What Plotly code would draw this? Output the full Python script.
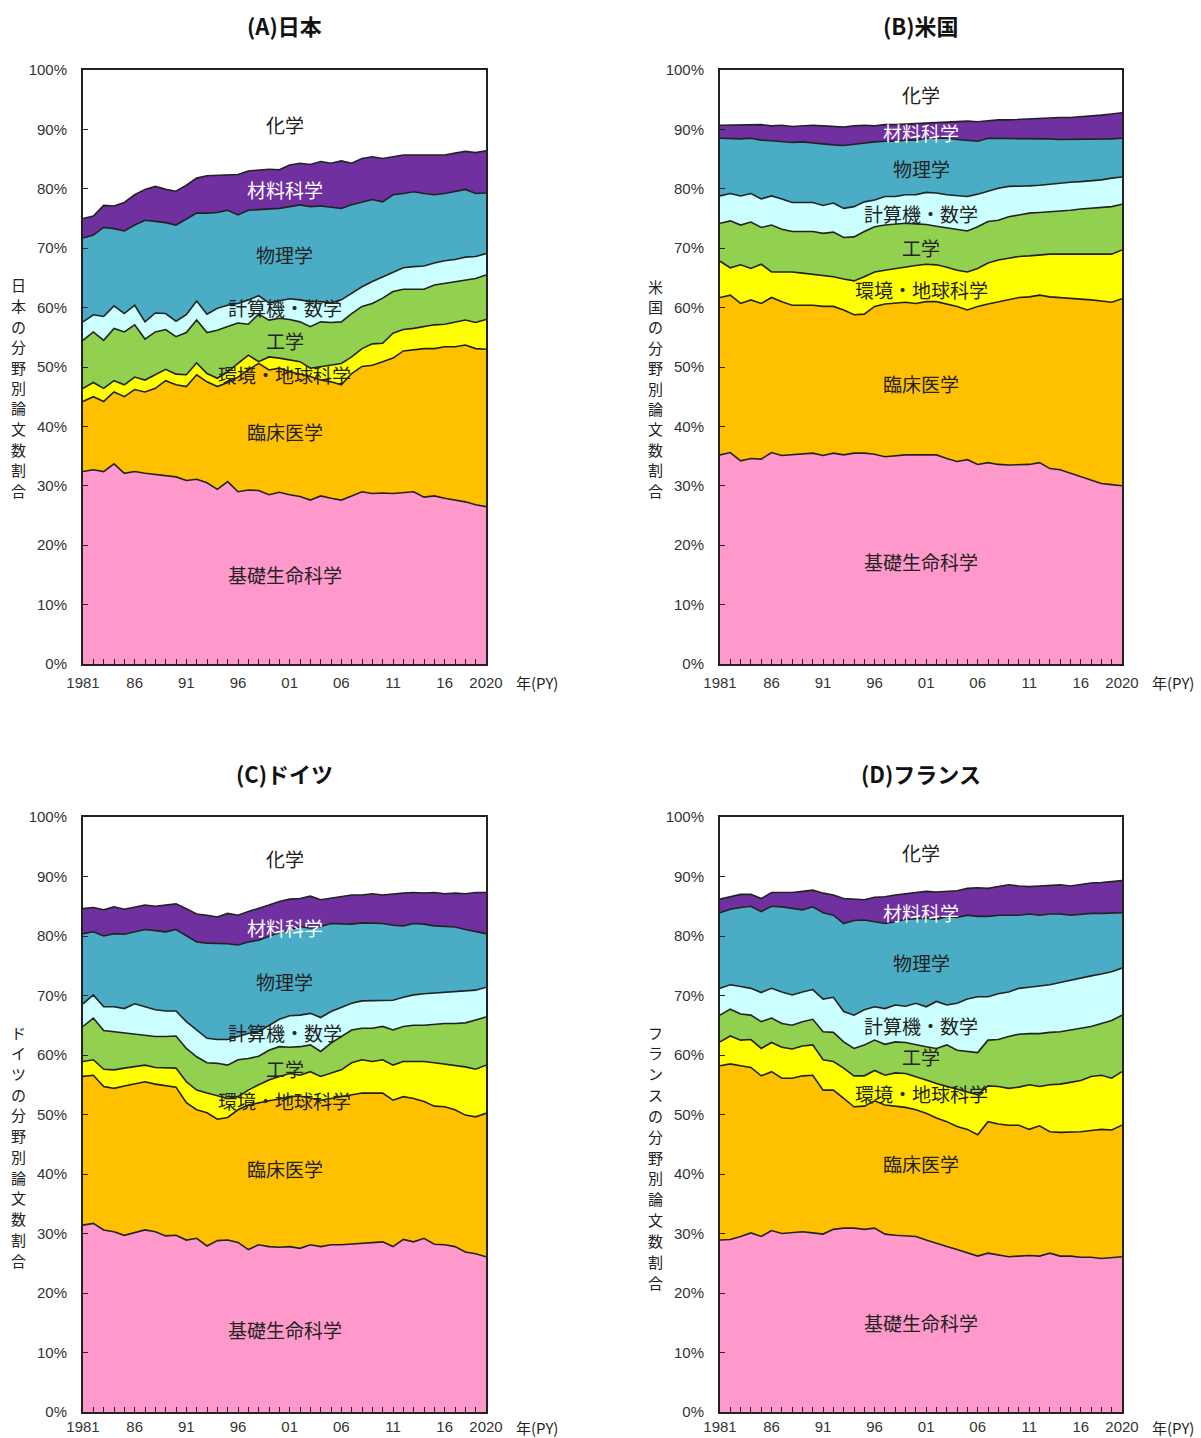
import plotly.graph_objects as go

# 1981-2020 publication years
years = list(range(1981, 2021))

fields = ["基礎生命科学", "臨床医学", "環境・地球科学", "工学", "計算機・数学", "物理学", "材料科学", "化学"]
fill_colors = ["#FF99CC", "#FFC000", "#FFFF00", "#92D050", "#CCFFFF", "#4BACC6", "#7030A0"]

x_tickvals = [1981, 1986, 1991, 1996, 2001, 2006, 2011, 2016, 2020]
x_ticktext = ["1981", "86", "91", "96", "01", "06", "11", "16", "2020"]
y_tickvals = list(range(0, 101, 10))
y_ticktext = [f"{v}%" for v in y_tickvals]

# Cumulative share (%) at the upper edge of each field, stacked bottom to top.
# Japan
jp_basic = [32.4,32.7,32.4,33.7,32.1,32.4,32.1,31.9,31.8,31.5, 30.9,31.1,30.5,29.4,30.7,29.0,29.3,29.2,28.5,28.9,
            28.5,28.2,27.6,28.3,27.9,27.6,28.3,29.0,28.7,28.8, 28.7,28.8,29.0,28.1,28.3,27.9,27.6,27.3,26.8,26.5]
jp_clin = [44.2,45.0,44.2,45.8,45.0,46.2,45.8,46.4,47.7,47.0, 46.7,48.7,47.5,46.7,47.4,48.3,49.5,50.6,49.5,49.8,
           49.2,48.8,48.4,47.8,47.5,47.0,48.9,50.1,50.3,50.9, 51.5,52.7,52.9,53.1,53.1,53.4,53.4,53.7,53.1,53.0]
jp_env = [46.4,47.4,46.4,47.7,47.0,48.3,47.8,48.7,49.6,48.8, 48.7,50.7,48.9,48.1,49.2,50.6,52.0,50.9,51.7,51.5,
          51.2,50.9,49.8,50.1,50.3,50.6,51.7,53.1,53.9,54.0, 55.7,56.3,56.5,56.8,57.1,57.2,57.5,57.9,57.5,58.0]
jp_eng = [54.5,55.9,54.5,56.5,55.9,57.1,54.7,55.9,56.3,55.1, 55.8,57.9,55.8,56.2,56.8,57.4,57.2,58.9,57.9,58.2,
          58.0,57.6,56.8,57.6,57.5,57.6,59.0,60.2,60.7,61.6, 62.7,63.1,63.1,63.1,63.8,64.1,64.4,64.6,64.9,65.5]
jp_comp = [57.6,58.8,58.5,60.3,59.0,60.4,57.6,59.1,59.0,57.7, 58.8,61.1,58.9,59.9,60.4,60.7,61.3,62.0,60.8,61.2,
           61.5,61.3,61.0,61.0,60.8,61.3,62.4,63.5,64.4,65.2, 65.9,66.7,66.9,67.0,67.5,67.9,68.1,68.5,68.6,69.1]
jp_phys = [71.7,72.2,73.5,73.3,72.9,73.9,74.7,74.5,74.3,73.9, 74.9,75.9,75.9,76.0,76.4,75.6,76.4,76.5,76.6,76.7,
           77.0,77.3,77.0,77.1,76.9,76.7,77.3,77.8,78.2,77.8, 79.0,79.2,79.5,79.2,79.0,79.2,79.5,79.9,79.2,79.3]
jp_mat = [75.0,75.4,77.2,77.1,77.7,79.0,79.9,80.4,79.9,79.6, 80.6,81.8,82.2,82.3,82.4,82.4,83.0,83.1,83.3,83.2,
          84.0,84.3,84.1,84.6,84.3,84.7,84.3,85.1,85.4,85.1, 85.4,85.7,85.7,85.7,85.8,85.7,86.0,86.3,86.1,86.4]

# United States
us_basic = [35.2,35.6,34.2,34.6,34.5,35.6,35.1,35.2,35.3,35.5, 35.1,35.5,35.2,35.5,35.5,35.3,34.9,35.1,35.2,35.2,
            35.2,35.2,34.6,34.1,34.4,33.6,33.9,33.6,33.5,33.6, 33.6,33.9,32.9,32.7,32.1,31.5,31.0,30.4,30.2,30.0]
us_clin = [61.7,62.1,60.7,61.3,60.7,61.7,61.0,60.4,60.4,60.4, 60.2,60.2,59.6,58.8,58.9,60.2,60.6,60.7,60.9,60.7,
           61.0,61.0,60.6,60.2,59.6,60.2,60.6,61.0,61.3,61.7, 61.8,62.1,61.8,61.7,61.6,61.4,61.3,61.1,60.9,61.5]
us_env = [67.8,66.7,67.2,66.6,67.3,66.0,66.0,66.0,65.8,65.6, 65.4,65.2,64.8,64.5,65.2,66.0,66.3,66.6,66.9,67.1,
          67.3,67.2,66.8,66.3,66.0,66.6,67.5,68.0,68.3,68.6, 68.7,68.9,69.0,69.0,69.0,69.1,69.1,69.0,69.0,69.7]
us_eng = [74.2,74.6,73.9,74.4,73.5,73.9,73.2,72.8,72.8,72.8, 72.5,72.7,71.8,71.9,72.8,73.6,73.9,74.0,74.2,74.1,
          74.0,73.7,73.4,73.1,72.9,73.6,74.5,74.7,75.3,75.6, 75.9,76.0,76.1,76.3,76.4,76.6,76.7,76.8,77.0,77.4]
us_comp = [78.8,79.2,78.8,79.2,78.3,78.8,78.3,77.7,77.7,77.7, 77.2,77.6,76.7,77.0,77.8,78.1,78.7,78.7,79.0,79.0,
           79.4,79.3,79.0,78.8,78.7,79.1,79.6,80.1,80.4,80.4, 80.5,80.6,80.8,80.9,81.1,81.2,81.3,81.5,81.8,82.0]
us_phys = [88.5,88.4,88.4,88.5,88.2,88.1,87.9,87.8,87.9,87.7, 87.5,87.4,87.3,87.5,87.8,87.9,88.0,88.0,88.2,88.2,
           88.5,88.5,88.5,88.3,88.2,88.0,88.5,88.5,88.5,88.5, 88.4,88.5,88.4,88.3,88.3,88.4,88.3,88.4,88.4,88.5]
us_mat = [90.7,90.7,90.7,90.7,90.8,90.6,90.7,90.5,90.6,90.7, 90.6,90.5,90.4,90.6,90.7,90.6,90.8,90.8,90.9,91.0,
          91.1,91.2,91.2,91.3,91.4,91.3,91.5,91.6,91.6,91.7, 91.7,91.8,91.9,92.0,92.0,92.1,92.3,92.4,92.6,92.8]

# Germany
de_basic = [31.4,31.7,30.6,30.3,29.7,30.1,30.6,30.3,29.6,29.7, 28.9,29.2,27.9,28.8,28.9,28.5,27.3,28.1,27.8,27.7,
            27.8,27.5,28.1,27.8,28.1,28.1,28.2,28.3,28.4,28.6, 27.8,29.0,28.6,29.2,28.2,28.1,27.8,26.9,26.6,26.1]
de_clin = [56.4,56.6,54.7,54.4,54.8,55.1,55.5,55.1,54.8,54.6, 52.0,50.8,50.3,49.2,49.5,50.8,51.6,52.0,52.3,52.6,
           53.0,53.1,52.8,52.4,52.7,53.0,53.3,53.6,53.6,53.6, 52.4,53.0,52.7,52.2,51.4,51.3,50.8,49.9,49.6,50.2]
de_env = [58.9,59.2,57.6,57.5,57.8,58.0,58.3,57.9,57.8,57.8, 55.5,54.1,53.6,53.1,52.7,53.0,54.1,55.0,55.8,56.4,
          56.9,56.6,57.2,56.4,57.0,57.5,58.7,59.2,58.9,59.2, 58.3,58.9,58.9,58.9,58.7,58.5,58.3,58.0,57.6,58.3]
de_eng = [64.8,66.2,64.1,63.9,63.8,63.5,63.4,63.1,63.1,63.2, 61.1,59.7,58.7,58.6,58.3,59.2,59.4,59.8,60.8,61.4,
          61.3,61.4,61.7,60.6,62.0,63.1,64.2,64.5,64.5,64.8, 64.2,64.8,65.0,65.0,65.2,65.3,65.3,65.4,65.9,66.4]
de_comp = [68.6,70.1,68.1,68.1,67.8,68.6,68.1,67.6,67.4,67.4, 65.6,64.2,62.8,62.6,62.6,63.1,63.6,63.9,65.0,66.0,
           66.6,66.7,67.0,66.3,67.3,68.0,68.7,69.1,69.1,69.1, 69.2,69.7,70.1,70.3,70.4,70.5,70.6,70.8,70.9,71.4]
de_phys = [80.4,80.7,80.0,80.4,80.3,80.7,81.1,80.9,80.7,81.1, 80.0,79.0,78.8,78.8,78.7,78.5,79.0,79.3,80.0,80.6,
           81.0,81.6,81.3,81.6,82.1,82.1,82.0,82.2,82.2,82.1, 81.8,81.7,82.1,82.0,81.7,81.6,81.5,81.1,80.7,80.4]
de_mat = [84.6,84.8,84.4,84.9,84.5,84.9,85.2,85.0,85.2,85.4, 84.6,83.7,83.5,83.2,83.8,83.5,84.1,84.6,85.2,85.8,
          86.2,86.3,86.7,86.1,86.4,86.7,86.9,86.9,87.1,86.9, 87.1,87.2,87.3,87.2,87.3,87.1,87.2,87.1,87.3,87.3]

# France
fr_basic = [28.9,29.0,29.5,30.1,29.5,30.5,30.0,30.1,30.3,30.1, 29.9,30.7,30.9,30.9,30.7,30.9,29.9,29.7,29.6,29.5,
            28.9,28.3,27.8,27.3,26.8,26.2,26.7,26.4,26.1,26.2, 26.3,26.2,26.7,26.2,26.2,26.0,26.0,25.8,25.9,26.1]
fr_clin = [58.2,58.5,58.2,57.9,56.5,57.2,56.1,56.1,56.5,56.6, 54.1,54.1,52.7,51.3,51.4,52.3,51.6,51.4,51.2,50.8,
           50.2,49.4,48.8,48.0,47.5,46.6,48.8,48.4,48.2,48.2, 47.5,48.1,47.1,47.0,47.0,47.1,47.3,47.5,47.4,48.2]
fr_env = [62.2,63.2,62.5,62.6,61.1,62.1,61.3,61.0,61.5,61.7, 59.2,58.9,57.8,56.5,56.5,57.4,56.6,57.0,56.9,56.4,
          55.8,55.2,54.7,54.2,53.8,53.3,54.8,54.7,54.4,54.6, 55.0,54.7,55.0,55.1,55.4,55.7,56.4,56.6,56.1,57.2]
fr_eng = [66.7,67.7,66.9,66.7,65.6,66.2,65.3,65.0,65.6,66.0, 63.9,63.8,62.2,61.1,61.7,62.5,61.8,62.2,62.1,61.7,
          61.4,61.1,61.7,60.8,60.6,60.4,62.5,62.6,63.1,63.5, 63.6,63.6,63.8,63.9,64.2,64.5,64.8,65.3,65.8,66.7]
fr_comp = [71.2,71.8,71.5,71.2,70.5,71.2,70.6,70.1,70.6,71.0, 69.4,69.7,67.3,66.7,67.6,68.1,67.8,68.4,68.2,68.7,
           68.1,69.0,68.4,68.7,69.4,69.8,69.8,70.3,70.6,71.2, 71.4,71.6,71.8,72.2,72.6,72.9,73.3,73.6,74.0,74.6]
fr_phys = [83.9,84.5,84.8,85.0,84.1,85.0,84.9,84.6,84.4,84.9, 83.9,83.5,82.1,82.6,82.7,82.4,82.1,82.4,82.8,82.9,
           83.0,82.8,83.3,83.1,83.5,83.3,83.3,83.5,83.5,83.5, 83.7,83.5,83.7,83.7,83.5,83.7,83.8,83.8,83.9,83.9]
fr_mat = [86.2,86.6,87.0,87.0,86.3,87.3,87.3,87.3,87.5,87.7, 87.2,86.9,86.3,86.2,86.1,86.5,86.6,86.9,87.1,87.2,
          87.5,87.4,87.5,87.6,88.0,88.1,88.0,88.3,88.6,88.4, 88.3,88.4,88.5,88.6,88.4,88.7,88.9,89.0,89.1,89.3]

W, H = 1201, 1438

panels = [
    dict(title="(A)日本", ytitle="日本の分野別論文数割合",
         series=[jp_basic, jp_clin, jp_env, jp_eng, jp_comp, jp_phys, jp_mat],
         xpx=(83, 486), ypx=(70, 664), title_y=25, ytitle_x=18, ytitle_y=(285, 490),
         xlab_standoff=4, unit_y=683,
         labels_y=[15.0, 39.1, 48.8, 54.5, 60.1, 68.9, 79.8, 90.9]),
    dict(title="(B)米国", ytitle="米国の分野別論文数割合",
         series=[us_basic, us_clin, us_env, us_eng, us_comp, us_phys, us_mat],
         xpx=(720, 1122), ypx=(70, 664), title_y=25, ytitle_x=655, ytitle_y=(286, 490),
         xlab_standoff=4, unit_y=683,
         labels_y=[17.2, 47.3, 63.0, 70.2, 75.8, 83.5, 89.4, 95.8]),
    dict(title="(C)ドイツ", ytitle="ドイツの分野別論文数割合",
         series=[de_basic, de_clin, de_env, de_eng, de_comp, de_phys, de_mat],
         xpx=(83, 486), ypx=(817, 1412), title_y=773, ytitle_x=18, ytitle_y=(1032, 1260),
         xlab_standoff=0, unit_y=1427,
         labels_y=[13.8, 41.0, 52.4, 57.8, 63.7, 72.4, 81.5, 93.1]),
    dict(title="(D)フランス", ytitle="フランスの分野別論文数割合",
         series=[fr_basic, fr_clin, fr_env, fr_eng, fr_comp, fr_phys, fr_mat],
         xpx=(720, 1122), ypx=(817, 1412), title_y=773, ytitle_x=655, ytitle_y=(1032, 1282),
         xlab_standoff=0, unit_y=1427,
         labels_y=[15.0, 41.8, 53.6, 59.7, 64.9, 75.5, 84.0, 94.0]),
]

JP_FONT = "Noto Sans CJK JP"
NUM_FONT = "Liberation Sans, Arial, sans-serif"
INK = "#222222"

fig = go.Figure()
annotations = []
layout_axes = {}

for k, p in enumerate(panels, start=1):
    xa = "x" if k == 1 else f"x{k}"
    ya = "y" if k == 1 else f"y{k}"
    # stacked areas: each field is filled down to the edge of the field below
    for i, vals in enumerate(p["series"]):
        fig.add_trace(go.Scatter(
            x=years, y=vals, xaxis=xa, yaxis=ya, mode="lines",
            line=dict(color=INK, width=1.6),
            fill="tozeroy" if i == 0 else "tonexty",
            fillcolor=fill_colors[i], name=fields[i],
            showlegend=False, hoverinfo="skip",
        ))

    x0, x1 = p["xpx"]
    y0, y1 = p["ypx"]
    common = dict(showline=True, linecolor=INK, linewidth=2, mirror=True,
                  showgrid=False, zeroline=False, automargin=False,
                  ticks="inside", ticklen=5, tickcolor=INK, tickwidth=1.3,
                  tickfont=dict(family=NUM_FONT, size=15, color="#333333"))
    layout_axes["xaxis" if k == 1 else f"xaxis{k}"] = dict(
        domain=[x0 / W, x1 / W], anchor=ya, range=[1981, 2020],
        tickmode="array", tickvals=x_tickvals, ticktext=x_ticktext,
        ticklabelstandoff=p["xlab_standoff"],
        minor=dict(tick0=1981, dtick=1, ticks="inside", ticklen=5,
                   tickcolor=INK, tickwidth=1.3),
        **common)
    layout_axes["yaxis" if k == 1 else f"yaxis{k}"] = dict(
        domain=[1 - y1 / H, 1 - y0 / H], anchor=xa, range=[0, 100],
        tickmode="array", tickvals=y_tickvals, ticktext=y_ticktext, ticklabelstandoff=11,
        **common)

    # panel title
    annotations.append(dict(
        text=f"<b>{p['title']}</b>", x=(x0 + x1) / 2 / W, y=1 - p["title_y"] / H,
        xref="paper", yref="paper", showarrow=False, xanchor="center", yanchor="middle",
        font=dict(family=JP_FONT, size=22, color="#111111")))

    # vertical y-axis title, one character per line
    chars = list(p["ytitle"])
    ty0, ty1 = p["ytitle_y"]
    step = (ty1 - ty0) / (len(chars) - 1)
    for j, ch in enumerate(chars):
        annotations.append(dict(
            text=ch, x=p["ytitle_x"] / W, y=1 - (ty0 + j * step) / H,
            xref="paper", yref="paper", showarrow=False,
            xanchor="center", yanchor="middle",
            font=dict(family=JP_FONT, size=15, color=INK)))

    # unit label after the last year tick
    annotations.append(dict(
        text="年(PY)", x=(x1 + 28) / W, y=1 - p["unit_y"] / H,
        xref="paper", yref="paper", showarrow=False, xanchor="left", yanchor="middle",
        font=dict(family=JP_FONT, size=15, color=INK)))

    # field names inside the areas
    for i, name in enumerate(fields):
        annotations.append(dict(
            text=name, x=2000.5, y=p["labels_y"][i], xref=xa, yref=ya,
            showarrow=False, xanchor="center", yanchor="middle",
            font=dict(family=JP_FONT, size=19,
                      color="#FFFFFF" if name == "材料科学" else INK)))

fig.update_layout(
    width=W, height=H, margin=dict(l=0, r=0, t=0, b=0, autoexpand=False),
    paper_bgcolor="white", plot_bgcolor="white",
    annotations=annotations, **layout_axes,
)

fig.write_html("out.html")
